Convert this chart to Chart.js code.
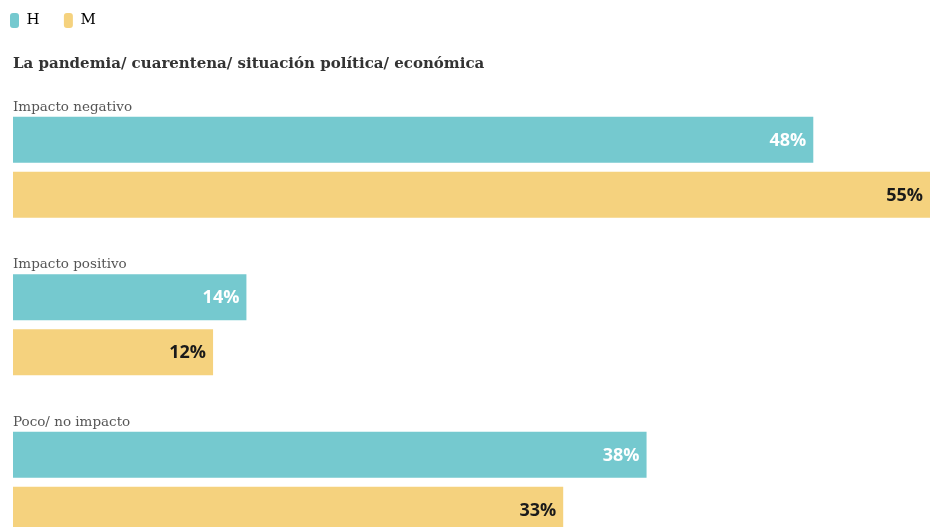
<!DOCTYPE html>
<html>
<head>
<meta charset="utf-8">
<script src="https://cdn.jsdelivr.net/npm/chart.js@4"></script>
<style>
  html, body { margin: 0; padding: 0; background: #fff; overflow: hidden; }
  .chart-box { position: relative; width: 930px; height: 561px; }
</style>
</head>
<body>
<div class="chart-box">
  <canvas id="impactChart"></canvas>
</div>
<script>
const categories = ['Impacto negativo', 'Impacto positivo', 'Poco/ no impacto'];
const seriesNames = ['H', 'M'];
const valuesH = [48, 14, 38];
const valuesM = [55, 12, 33];
const titleText = 'La pandemia/ cuarentena/ situación política/ económica';

const teal = '#75C9CF';
const yellow = '#F5D27E';

// labels above each group + the % inside the bars
const barTextPlugin = {
  id: 'barText',
  afterDatasetsDraw(chart) {
    const ctx = chart.ctx;
    const area = chart.chartArea;
    ctx.save();

    const first = chart.getDatasetMeta(0);
    ctx.font = '13.5px "DejaVu Serif", serif';
    ctx.fillStyle = '#555';
    ctx.textAlign = 'left';
    ctx.textBaseline = 'alphabetic';
    first.data.forEach((bar, i) => {
      const top = bar.y - bar.height / 2;
      ctx.fillText(categories[i], area.left, top - 6);
    });

    ctx.font = 'bold 18px "Open Sans", sans-serif';
    ctx.textAlign = 'right';
    ctx.textBaseline = 'middle';
    chart.data.datasets.forEach((ds, d) => {
      const meta = chart.getDatasetMeta(d);
      ctx.fillStyle = d === 0 ? '#ffffff' : '#1a1a1a';
      meta.data.forEach((bar, i) => {
        ctx.fillText(ds.data[i] + '%', bar.x - 7, bar.y + 1);
      });
    });
    ctx.restore();
  }
};

new Chart(document.getElementById('impactChart'), {
  type: 'bar',
  data: {
    labels: categories,
    datasets: [
      { label: seriesNames[0], data: valuesH, backgroundColor: teal, borderWidth: 0,
        categoryPercentage: 0.6984, barPercentage: 0.8364 },
      { label: seriesNames[1], data: valuesM, backgroundColor: yellow, borderWidth: 0,
        categoryPercentage: 0.6984, barPercentage: 0.8364 }
    ]
  },
  options: {
    indexAxis: 'y',
    responsive: true,
    maintainAspectRatio: false,
    animation: false,
    layout: { padding: { top: 3, left: 0, right: 0, bottom: 0 } },
    scales: {
      x: { display: false, min: 0, max: 55 },
      y: {
        display: true,
        ticks: { display: false },
        grid: { display: false },
        border: { display: false },
        afterFit(scale) { scale.width = 13; }
      }
    },
    plugins: {
      tooltip: { enabled: false },
      legend: {
        position: 'top',
        align: 'start',
        fullSize: true,
        weight: 3000,
        labels: {
          boxWidth: 9,
          boxHeight: 15,
          padding: 10,
          useBorderRadius: true,
          borderRadius: 3,
          color: '#444',
          font: { family: '"DejaVu Serif", serif', size: 15 },
          generateLabels(chart) {
            return chart.data.datasets.map((ds, i) => ({
              text: ds.label + '\u00a0\u00a0\u00a0',
              fillStyle: ds.backgroundColor,
              strokeStyle: ds.backgroundColor,
              lineWidth: 0,
              borderRadius: 3,
              datasetIndex: i
            }));
          }
        }
      },
      title: {
        display: true,
        text: titleText,
        align: 'start',
        fullSize: false,
        color: '#333',
        font: { family: '"DejaVu Serif", serif', size: 15, weight: 'bold' },
        padding: { top: 17, bottom: 15.5 }
      }
    }
  },
  plugins: [barTextPlugin]
});
</script>
</body>
</html>
